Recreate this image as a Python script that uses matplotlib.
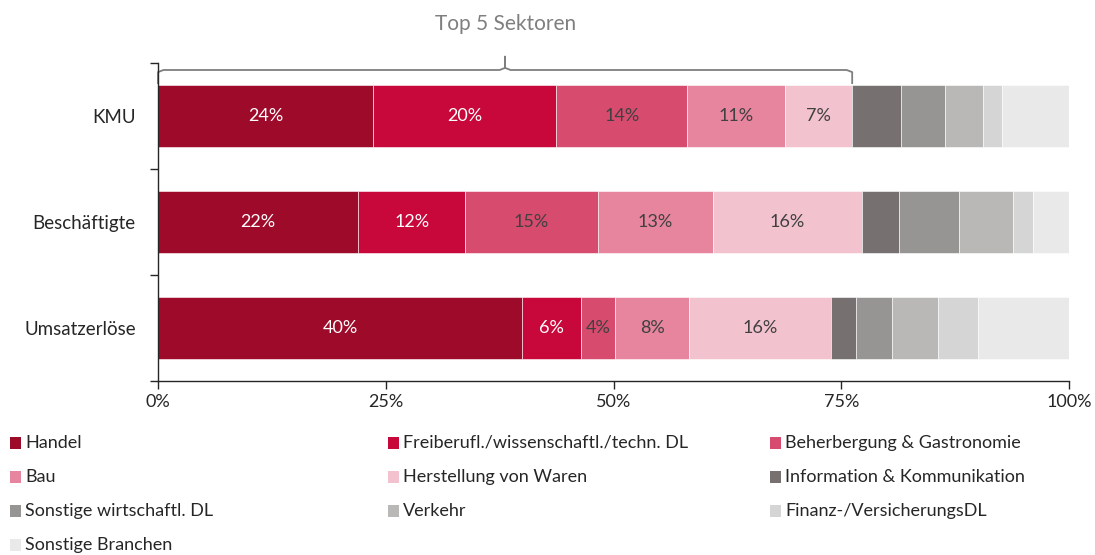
import matplotlib
matplotlib.use("Agg")
import matplotlib.pyplot as plt
import numpy as np
from matplotlib.patches import Rectangle
from matplotlib.ticker import FixedLocator, PercentFormatter

plt.rcParams['font.family'] = ['Lato', 'DejaVu Sans']

# ==================== Data ====================
categories = ["KMU", "Beschäftigte", "Umsatzerlöse"]
sectors = [
    "Handel",
    "Freiberufl./wissenschaftl./techn. DL",
    "Beherbergung & Gastronomie",
    "Bau",
    "Herstellung von Waren",
    "Information & Kommunikation",
    "Sonstige wirtschaftl. DL",
    "Verkehr",
    "Finanz-/VersicherungsDL",
    "Sonstige Branchen",
]
# shares in % per sector (one entry per category)
handel = [23.6, 22.0, 40.0]
freiberufl = [20.1, 11.7, 6.4]
beherbergung = [14.4, 14.6, 3.8]
bau = [10.7, 12.6, 8.1]
herstellung = [7.4, 16.4, 15.6]
information = [5.4, 4.0, 2.7]
sonstige_wirt = [4.8, 6.6, 4.0]
verkehr = [4.2, 6.0, 5.0]
finanz = [2.0, 2.1, 4.4]
sonstige_branchen = [7.4, 4.0, 10.0]

values = [handel, freiberufl, beherbergung, bau, herstellung,
          information, sonstige_wirt, verkehr, finanz, sonstige_branchen]

colors = ["#9E0B2A", "#C8073A", "#D64B6E", "#E6859D", "#F2C2CE",
          "#767170", "#979593", "#BAB8B6", "#D5D5D5", "#E9E9E9"]
n_labeled = 5
bracket_text = "Top 5 Sektoren"

# ==================== Plot ====================
fig = plt.figure(figsize=(10.95, 5.55), dpi=100)
ax = fig.add_axes([158 / 1095, 1 - 381 / 555, 911 / 1095, 318 / 555])

y = np.arange(len(categories))
left = np.zeros(len(categories))
for i, (vals, col) in enumerate(zip(values, colors)):
    vals = np.array(vals)
    ax.barh(y, vals, left=left, height=0.58, color=col,
            edgecolor="white", linewidth=0.4)
    if i < n_labeled:
        txt_col = "white" if i < 2 else "#404040"
        for yy, l, v in zip(y, left, vals):
            ax.text(l + v / 2, yy, f"{round(v):d}%", ha="center", va="center",
                    fontsize=13, color=txt_col)
    left = left + vals

ax.set_xlim(0, 100)
ax.set_ylim(len(categories) - 0.5, -0.5)
ax.set_yticks(y)
ax.set_yticklabels(categories, fontsize=13.5, color="#262626")
ax.yaxis.set_minor_locator(FixedLocator(np.arange(-0.5, len(categories), 1)))
ax.tick_params(axis="y", which="major", length=0, pad=16)
ax.tick_params(axis="y", which="minor", length=6, width=1, color="#262626")
ax.set_xticks([0, 25, 50, 75, 100])
ax.xaxis.set_major_formatter(PercentFormatter(decimals=0))
ax.tick_params(axis="x", length=6, width=1, color="#262626", labelsize=13,
               labelcolor="#262626")
for s in ["top", "right"]:
    ax.spines[s].set_visible(False)
for s in ["left", "bottom"]:
    ax.spines[s].set_color("#262626")
    ax.spines[s].set_linewidth(1)

# bracket over top 5 sectors (first row)
top5_end = sum(v[0] for v in values[:n_labeled])
mid = top5_end / 2
yb = -0.434
ydown = -0.31
ypeak = -0.56
r = 0.6
bx = [0, 0, r, mid - r, mid, mid, mid, mid + r, top5_end - r, top5_end, top5_end]
by = [ydown, yb + 0.02, yb, yb, yb - 0.02, ypeak, yb - 0.02, yb, yb, yb + 0.02, ydown]
ax.plot(bx, by, color="#7F7F7F", linewidth=1.3, clip_on=False,
        solid_joinstyle="round")
ax.text(mid, -0.87, bracket_text, ha="center", va="center", fontsize=15,
        color="#7F7F7F")

# legend
col_x = [10, 388, 770]
row_y = [443, 477, 511, 545]
for i, (name, col) in enumerate(zip(sectors, colors)):
    cx = col_x[i % 3]
    cy = row_y[i // 3]
    fig.patches.append(Rectangle((cx / 1095, 1 - (cy + 6) / 555), 11 / 1095, 12 / 555,
                                 transform=fig.transFigure, facecolor=col,
                                 edgecolor="none"))
    fig.text((cx + 15) / 1095, 1 - cy / 555, name, ha="left", va="center",
             fontsize=13, color="#262626")

fig.savefig("out.png", dpi=100, facecolor="white")
